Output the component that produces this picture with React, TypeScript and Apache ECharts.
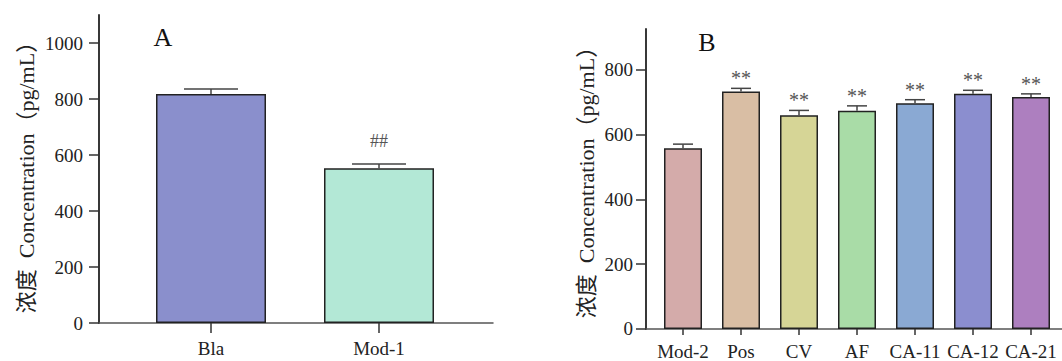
import React, { useEffect, useRef } from "react";
import * as echarts from "echarts";

const catsA = ["Bla", "Mod-1"];
const valsA = [818, 553];
const errA = [18, 15];
const sigA = ["", "##"];
const colorsA = ["#8a8fcc", "#b3e8d6"];

const catsB = ["Mod-2", "Pos", "CV", "AF", "CA-11", "CA-12", "CA-21"];
const valsB = [557, 732, 659, 673, 696, 725, 715];
const errB = [13, 10, 15, 15, 11, 11, 10];
const sigB = ["", "**", "**", "**", "**", "**", "**"];
const colorsB = ["#d4abaa", "#d9bea4", "#d6d596", "#a9dca7", "#8aa9d3", "#8b8ecf", "#ad7fbf"];

const yTicksA = [0, 200, 400, 600, 800, 1000];
const yTicksB = [0, 200, 400, 600, 800];
const yTitle = "浓度  Concentration（pg/mL）";

const SERIF = "'Liberation Serif', 'Times New Roman', 'Noto Sans CJK SC', serif";

function makeErr(vals: number[], errs: number[], sigs: string[], capHalf: number, labelGap: number, fontSize: number, gi: number) {
  return {
    type: "custom",
    xAxisIndex: gi,
    yAxisIndex: gi,
    z: 5,
    data: vals.map((v, i) => [i + 1, v, errs[i]]),
    renderItem: (params: any, api: any) => {
      const x = api.value(0);
      const v = api.value(1);
      const e = api.value(2);
      const p0 = api.coord([x, v]);
      const p1 = api.coord([x, v + e]);
      const sig = sigs[params.dataIndex];
      const children: any[] = [
        { type: "line", shape: { x1: p0[0], y1: p0[1], x2: p1[0], y2: p1[1] }, style: { stroke: "#444", lineWidth: 1.5 } },
        { type: "line", shape: { x1: p1[0] - capHalf, y1: p1[1], x2: p1[0] + capHalf, y2: p1[1] }, style: { stroke: "#444", lineWidth: 1.5 } },
      ];
      if (sig) {
        children.push({
          type: "text",
          x: p1[0],
          y: p1[1] - labelGap,
          style: { text: sig, fill: "#555", font: `${fontSize}px ${SERIF}`, textAlign: "center", textVerticalAlign: "middle" },
        });
      }
      return { type: "group", children };
    },
  };
}

export default function App() {
  const ref = useRef<HTMLDivElement>(null);
  useEffect(() => {
    document.body.style.margin = "0";
    const chart = echarts.init(ref.current!, null, { renderer: "svg" });
    const axisLabelStyle = { color: "#222", fontSize: 19, fontFamily: SERIF };
    const xAxisCommon = (cats: string[], min: number, max: number, tickLen: number, margin: number, gi: number) => ({
      type: "value",
      gridIndex: gi,
      min,
      max,
      splitLine: { show: false },
      axisLine: { show: true, lineStyle: { color: "#555", width: 1.5 } },
      axisTick: { show: true, length: tickLen, customValues: cats.map((_, i) => i + 1), lineStyle: { color: "#333", width: 1.5 } },
      axisLabel: {
        ...axisLabelStyle,
        margin,
        customValues: cats.map((_, i) => i + 1),
        formatter: (v: number) => cats[Math.round(v) - 1] ?? "",
      },
    });
    const yAxisCommon = (ticks: number[], max: number, margin: number, gi: number) => ({
      type: "value",
      gridIndex: gi,
      min: 0,
      max,
      splitLine: { show: false },
      axisLine: { show: true, lineStyle: { color: "#222", width: 1.8 } },
      axisTick: { show: true, length: 10, customValues: ticks, lineStyle: { color: "#333", width: 1.5 } },
      axisLabel: { ...axisLabelStyle, margin, customValues: ticks, formatter: (v: number) => String(v) },
    });

    chart.setOption({
      animation: false,
      grid: [
        { left: 99, top: 15, width: 394, height: 308, containLabel: false },
        { left: 646, top: 29, width: 416, height: 302, containLabel: false },
      ],
      xAxis: [
        xAxisCommon(catsA, 1 - 112 / 168, 2 + 114 / 168, 10, 16, 0),
        xAxisCommon(catsB, 1 - 37 / 58, 7 + 31 / 58, 6, 13, 1),
      ],
      yAxis: [yAxisCommon(yTicksA, 1100, 16, 0), yAxisCommon(yTicksB, 925, 13, 1)],
      series: [
        {
          type: "bar",
          xAxisIndex: 0,
          yAxisIndex: 0,
          barWidth: 110,
          data: valsA.map((v, i) => ({ value: [i + 1, v], itemStyle: { color: colorsA[i] } })),
          itemStyle: { borderColor: "#222", borderWidth: 1.5 },
        },
        {
          type: "bar",
          xAxisIndex: 1,
          yAxisIndex: 1,
          barWidth: 38,
          data: valsB.map((v, i) => ({ value: [i + 1, v], itemStyle: { color: colorsB[i] } })),
          itemStyle: { borderColor: "#222", borderWidth: 1.5 },
        },
        makeErr(valsA, errA, sigA, 27, 23, 18, 0),
        makeErr(valsB, errB, sigB, 10, 10, 20, 1),
      ],
      graphic: [
        { type: "text", x: 163, y: 37, style: { text: "A", font: `26px ${SERIF}`, fill: "#111", textAlign: "center", textVerticalAlign: "middle" } },
        { type: "text", x: 707, y: 42, style: { text: "B", font: `26px ${SERIF}`, fill: "#111", textAlign: "center", textVerticalAlign: "middle" } },
        { type: "text", x: 26, y: 172, rotation: Math.PI / 2, style: { text: yTitle, font: `22px ${SERIF}`, fill: "#222", textAlign: "center", textVerticalAlign: "middle" } },
        { type: "text", x: 586, y: 177, rotation: Math.PI / 2, style: { text: yTitle, font: `22px ${SERIF}`, fill: "#222", textAlign: "center", textVerticalAlign: "middle" } },
      ],
    });
    return () => chart.dispose();
  }, []);
  return <div ref={ref} style={{ width: 1062, height: 361 }} />;
}
